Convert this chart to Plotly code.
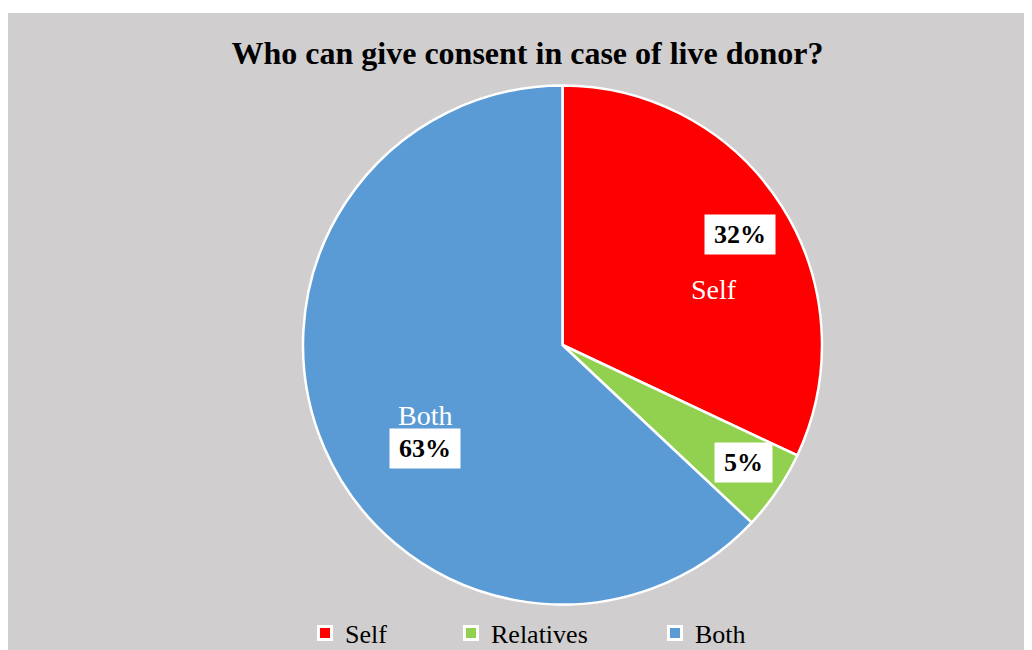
import plotly.graph_objects as go

categories = ["Self", "Relatives", "Both"]
values = [32, 5, 63]
colors = ["#FF0000", "#92D050", "#5B9BD5"]
title_text = "Who can give consent in case of live donor?"

W, H = 1032, 650
OFF = 8  # page body margin
BG = "#D0CECE"
SERIF = "Liberation Serif, Times New Roman, serif"


def px(x):
    return (x - OFF) / W


def py(y):
    return (H - (y - OFF)) / H


cx, cy, r = 562.5, 345, 259.5

fig = go.Figure()
fig.add_trace(go.Pie(
    labels=categories,
    values=values,
    marker=dict(colors=colors, line=dict(color="white", width=2.5)),
    sort=False,
    direction="clockwise",
    rotation=0,
    textinfo="none",
    showlegend=False,
    domain=dict(x=[px(cx - r), px(cx + r)], y=[py(cy + r), py(cy - r)]),
))

# legend entries (one legend per entry so spacing matches the original)
legend_left = [305, 451, 655]
legend_names = ["legend", "legend2", "legend3"]
layout_legends = {}
for name, col, lg, left in zip(categories, colors, legend_names, legend_left):
    fig.add_trace(go.Scatter(
        x=[None], y=[None], mode="markers", name=name,
        marker=dict(symbol="square", size=13, color=col,
                    line=dict(color="white", width=3)),
        legend=lg, showlegend=True, hoverinfo="skip",
    ))
    layout_legends[lg] = dict(
        x=px(left), xanchor="left", y=py(633), yanchor="middle",
        orientation="h", bgcolor="rgba(0,0,0,0)",
        font=dict(family=SERIF, size=26, color="black"),
    )

# data labels
pct_pos = {"Self": (740, 234), "Relatives": (743, 463), "Both": (425, 448)}
pct_w = {"Self": 62, "Relatives": 49, "Both": 62}
name_pos = {"Self": (714, 289), "Both": (425, 415)}
annotations = []
for cat, v in zip(categories, values):
    x, y = pct_pos[cat]
    annotations.append(dict(
        x=px(x), y=py(y), xref="paper", yref="paper", showarrow=False,
        text=f"<b>{v}%</b>", bgcolor="white", borderpad=4,
        width=pct_w[cat], height=31,
        font=dict(family=SERIF, size=26, color="black"),
        xanchor="center", yanchor="middle",
    ))
    if cat in name_pos:
        nx, ny = name_pos[cat]
        annotations.append(dict(
            x=px(nx), y=py(ny), xref="paper", yref="paper", showarrow=False,
            text=cat, font=dict(family=SERIF, size=28, color="white"),
            xanchor="center", yanchor="middle",
        ))

fig.update_layout(
    width=W, height=H,
    margin=dict(l=0, r=0, t=0, b=0),
    paper_bgcolor="white",
    plot_bgcolor="rgba(0,0,0,0)",
    xaxis=dict(visible=False), yaxis=dict(visible=False),
    title=dict(text=f"<b>{title_text}</b>", x=px(527.5), xanchor="center",
               y=py(53), yanchor="middle", yref="container", xref="container",
               font=dict(family=SERIF, size=32, color="black")),
    shapes=[dict(type="rect", xref="paper", yref="paper",
                 x0=0, x1=1, y0=0, y1=py(13),
                 fillcolor=BG, line=dict(width=0), layer="below")],
    annotations=annotations,
    **layout_legends,
)

fig.write_html("out.html")
